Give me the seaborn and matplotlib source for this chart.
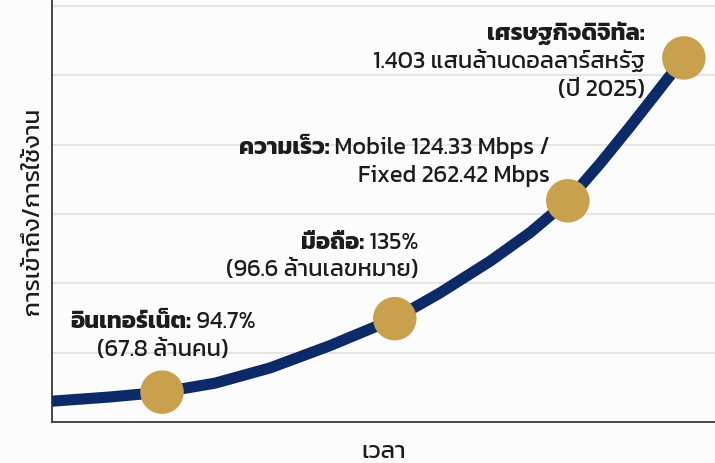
import matplotlib
matplotlib.use('Agg')
import matplotlib.pyplot as plt
import seaborn as sns
from matplotlib.offsetbox import TextArea, HPacker, VPacker, AnnotationBbox

# values (time 0-10, access/usage 0-6)
curve_x = [0, 0.87, 1.66, 2.46, 3.29, 4.19, 5.17, 5.85, 6.61, 7.21, 7.78, 8.27, 8.72, 9.13, 9.53]
curve_y = [0.30, 0.36, 0.43, 0.56, 0.78, 1.10, 1.49, 1.86, 2.32, 2.73, 3.19, 3.73, 4.26, 4.76, 5.25]

point_x = [1.66, 5.17, 7.78, 9.53]
point_y = [0.43, 1.49, 3.19, 5.25]

heads = ['อินเทอร์เน็ต:', 'มือถือ:', 'ความเร็ว:', 'เศรษฐกิจดิจิทัล:']
head_rest = [' 94.7%', ' 135%', ' Mobile 124.33 Mbps /', '']
more_lines = [['(67.8 ล้านคน)'],
              ['(96.6 ล้านเลขหมาย)'],
              ['Fixed 262.42 Mbps'],
              ['1.403 แสนล้านดอลลาร์สหรัฐ', '(ปี 2025)']]

ylabel = 'การเข้าถึง/การใช้งาน'
xlabel = 'เวลา'

navy = '#0c2a68'
gold = '#c9a04c'
ink = '#1c1c1c'
fam = ['Kanit', 'Noto Sans Thai', 'DejaVu Sans']
fs = 17

sns.set_style('white')
plt.rcParams['font.family'] = fam

fig = plt.figure(figsize=(7.15, 4.64), dpi=100, facecolor='#fcfcfc')
ax = fig.add_axes([0.0727, 0.0884, 0.9273, 0.9116])
ax.set_facecolor('#fcfcfc')

sns.lineplot(x=curve_x, y=curve_y, color=navy, linewidth=8, ax=ax,
             solid_capstyle='butt', solid_joinstyle='round', zorder=3)
sns.scatterplot(x=point_x, y=point_y, color=gold, s=980, edgecolor='none', ax=ax, zorder=4)

ax.set_xlim(0, 10)
ax.set_ylim(0, 6.1)
ax.set_xticks([])
ax.set_yticks([1, 2, 3, 4, 5, 6])
ax.tick_params(axis='y', length=0, labelleft=False)
ax.grid(axis='y', color='#e2e2e2', linewidth=1.3)
ax.set_axisbelow(True)
for side in ['top', 'right']:
    ax.spines[side].set_visible(False)
for side in ['left', 'bottom']:
    ax.spines[side].set_color('#3a3a3a')
    ax.spines[side].set_linewidth(1.3)

ax.set_ylabel(ylabel, fontsize=17.5, color=ink, labelpad=6)
ax.set_xlabel(xlabel, fontsize=17.5, color=ink, labelpad=13)

# label boxes: offset from each point in pixels, box anchor, line alignment
offsets = [(1, 57), (24, 63), (-18, 40), (-39, -2)]
anchors = [(0.5, 0.5), (1, 0.5), (1, 0.5), (1, 0.5)]
aligns = ['center', 'right', 'right', 'right']

for i in range(len(heads)):
    first = [TextArea(heads[i], textprops=dict(fontsize=fs, fontweight='bold', color=ink, family=fam))]
    if head_rest[i]:
        first.append(TextArea(head_rest[i], textprops=dict(fontsize=fs, color=ink, family=fam)))
    rows = [HPacker(children=first, align='baseline', pad=0, sep=0)]
    for line in more_lines[i]:
        rows.append(TextArea(line, textprops=dict(fontsize=fs, color=ink, family=fam)))
    box = VPacker(children=rows, align=aligns[i], pad=0, sep=4)
    dx, dy = offsets[i]
    ab = AnnotationBbox(box, (point_x[i], point_y[i]), xybox=(dx * 0.72, dy * 0.72),
                        boxcoords='offset points', box_alignment=anchors[i],
                        frameon=False, zorder=5)
    ax.add_artist(ab)

fig.savefig('out.png', dpi=100, facecolor=fig.get_facecolor())
